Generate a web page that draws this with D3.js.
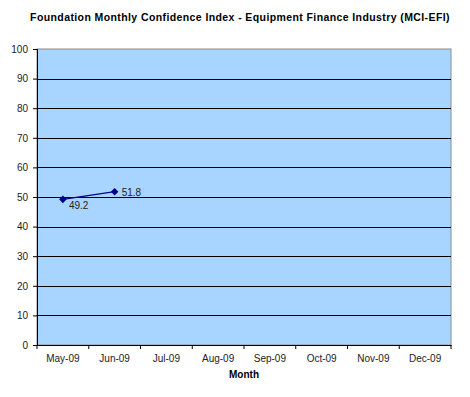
<!DOCTYPE html>
<html>
<head>
<meta charset="utf-8">
<script src="https://cdn.jsdelivr.net/npm/d3@7"></script>
<style>
  body { margin: 0; background: #fff; }
  text { font-family: Arial, "Liberation Sans", sans-serif; }
</style>
</head>
<body>
<svg id="chart" width="470" height="397"></svg>
<script>
const months = ['May-09', 'Jun-09', 'Jul-09', 'Aug-09', 'Sep-09', 'Oct-09', 'Nov-09', 'Dec-09'];
const mciValues = [49.2, 51.8];
const yTicks = [0, 10, 20, 30, 40, 50, 60, 70, 80, 90, 100];

const width = 470, height = 397;
const margin = { top: 49, right: 19, bottom: 52, left: 37 };
const innerW = width - margin.left - margin.right;
const innerH = height - margin.top - margin.bottom;

const svg = d3.select('#chart');

svg.append('text')
  .attr('x', 240).attr('y', 21)
  .attr('text-anchor', 'middle')
  .attr('font-size', 10.5).attr('font-weight', 'bold')
  .attr('letter-spacing', 0.4)
  .text('Foundation Monthly Confidence Index - Equipment Finance Industry (MCI-EFI)');

const g = svg.append('g').attr('transform', `translate(${margin.left},${margin.top})`);

const x = d3.scaleBand().domain(months).range([0, innerW]);
const y = d3.scaleLinear().domain([0, 100]).range([innerH, 0]);

// plot background
g.append('rect')
  .attr('width', innerW).attr('height', innerH)
  .attr('fill', '#A8D5FF')
  .attr('stroke', '#8c8c8c').attr('stroke-width', 1);

// gridlines
g.append('g')
  .selectAll('line')
  .data(yTicks.filter(d => d > 0 && d < 100))
  .join('line')
  .attr('x1', 0).attr('x2', innerW)
  .attr('y1', d => Math.round(y(d)) + 0.5).attr('y2', d => Math.round(y(d)) + 0.5)
  .attr('stroke', '#000').attr('stroke-width', 1);

// y axis
const yAxis = g.append('g')
  .call(d3.axisLeft(y).tickValues(yTicks).tickSize(4).tickPadding(5));
yAxis.select('.domain').attr('stroke', '#000');
yAxis.selectAll('text').attr('font-size', 10).attr('fill', '#222');

// x axis
const xAxis = g.append('g')
  .attr('transform', `translate(0,${innerH})`)
  .call(d3.axisBottom(x).tickSize(0).tickPadding(10));
xAxis.select('.domain').attr('stroke', '#000');
xAxis.selectAll('text').attr('font-size', 10).attr('fill', '#222');
xAxis.append('g')
  .selectAll('line')
  .data(months.map(m => x(m)).concat([innerW]))
  .join('line')
  .attr('x1', d => d).attr('x2', d => d)
  .attr('y1', 0).attr('y2', 4)
  .attr('stroke', '#000');

svg.append('text')
  .attr('x', margin.left + innerW / 2).attr('y', 378)
  .attr('text-anchor', 'middle')
  .attr('font-size', 10).attr('font-weight', 'bold')
  .text('Month');

// series
const pts = mciValues.map((v, i) => ({ m: months[i], v }));
const cx = d => x(d.m) + x.bandwidth() / 2;

g.append('path')
  .datum(pts)
  .attr('fill', 'none')
  .attr('stroke', '#00008B').attr('stroke-width', 1.2)
  .attr('d', d3.line().x(cx).y(d => y(d.v)));

g.selectAll('.pt')
  .data(pts)
  .join('path')
  .attr('class', 'pt')
  .attr('transform', d => `translate(${cx(d)},${y(d.v)})`)
  .attr('d', d3.symbol(d3.symbolDiamond2, 36))
  .attr('fill', '#00008B');

g.selectAll('.lbl')
  .data(pts)
  .join('text')
  .attr('class', 'lbl')
  .attr('x', (d, i) => cx(d) + (i === 0 ? 6 : 7))
  .attr('y', (d, i) => y(d.v) + (i === 0 ? 10 : 4))
  .attr('font-size', 10).attr('fill', '#222')
  .text(d => d.v.toFixed(1));
</script>
</body>
</html>
